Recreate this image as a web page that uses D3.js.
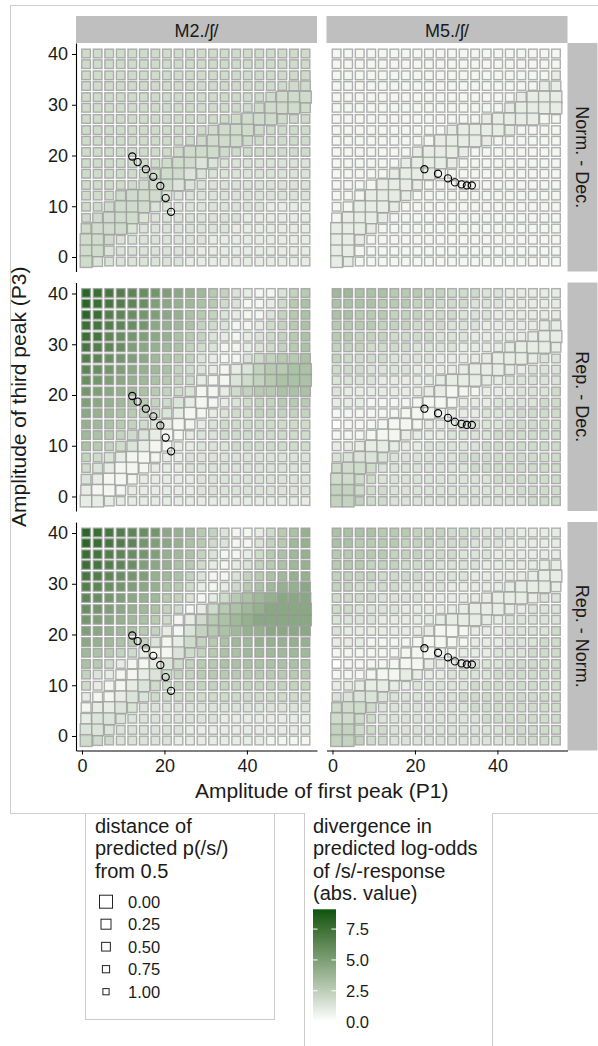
<!DOCTYPE html>
<html>
<head>
<meta charset="utf-8">
<script src="https://cdn.jsdelivr.net/npm/d3@7"></script>
<style>
  body { margin: 0; background: #fff; }
  svg { display: block; font-family: "Liberation Sans", Arial, sans-serif; }
</style>
</head>
<body>
<div id="chart"></div>
<script>
// facets
const colFacets = ["M2./ʃ/", "M5./ʃ/"];
const rowFacets = ["Norm. - Dec.", "Rep. - Dec.", "Rep. - Norm."];

// grid of stimuli: P1 (columns, left to right) and P3 (rows, top to bottom)
const p1Grid = [1.0, 3.8, 6.6, 9.4, 12.2, 15.0, 17.8, 20.6, 23.4, 26.2, 29.0, 31.8, 34.6, 37.4, 40.2, 43.0, 45.8, 48.6, 51.4, 54.2];
const p3Grid = [40.1, 38.0, 35.8, 33.7, 31.5, 29.4, 27.2, 25.0, 22.9, 20.7, 18.5, 16.4, 14.2, 12.1, 9.9, 7.7, 5.6, 3.4, 1.2, -0.9];

const xTicks = [0, 20, 40];
const yTicks = [0, 10, 20, 30, 40];
const sizeBreaks = [0, 0.25, 0.5, 0.75, 1];
const fillBreaks = [0, 2.5, 5, 7.5];
const fillMax = 9.1;

// experimental stimuli (open circles)
const stimP1M2 = [12.2, 13.5, 15.5, 17.3, 19.0, 20.3, 21.6];
const stimP3M2 = [19.8, 18.7, 17.3, 15.8, 14.0, 11.6, 8.9];
const stimP1M5 = [22.3, 25.6, 28.0, 29.7, 31.3, 32.6, 33.8];
const stimP3M5 = [17.3, 16.4, 15.5, 14.7, 14.3, 14.1, 14.1];

// divergence (abs log-odds), one char per cell, base36 / 2
const divM2NormDec = [
  "44444444444444444444","44444444444444444444","44444444444444444444","44444444444444444444",
  "44444444444444444444","44444444444444444444","44444444444444444444","44444444444444444444",
  "44444444444444444444","44444444444444444444","44444444443333333333","44444444433333333333",
  "44444444333333333333","44444443333333333333","44444433333333332222","44444333333333222222",
  "44443333333332222222","44433333333222222222","44333333332222222222","43333333322222222222"
];
const divM5NormDec = [
  "11111111111111111111","11111111111111111111","11111111111111111112","11111111111111111122",
  "11111111111111112222","11111111111111122222","11111111111112222211","11111111112222221111",
  "11111111122222111111","11111112222211111111","11111122222111111111","11111222211111111111",
  "11112222111111111111","11122221111111111111","11222211111111111111","12222111111111111111",
  "22221111111111111111","22211111111111111111","22111111111111111111","22111111111111111111"
];
const divM2RepDec = [
  "ihgfedcba98653211356","ihgfedba987643112467","ihfedcba976532113567","hgfedca9875431124567",
  "hgedcba9765321234567","gfedba98754311234567","fedcba87653211345667","edcba987543212356677",
  "dcba9876542113456777","cba98765431124566777","ba987654321123455666","a9876543211234455555",
  "98765432112344444444","87654321123344444444","76543211223334444444","54321112233333333333",
  "43211122233333333333","32111222223333333333","21112222223333333333","22222222222222222222"
];
const divM5RepDec = [
  "88777666554443322222","77776665544433322222","77666555444333222222","66665554443332222222",
  "66555444433322222222","55544443333222222222","54444333322222222233","44433332222222222333",
  "33332222222222233333","32222222221112223334","22211111111222333344","11111111112223334444",
  "01111111222333344444","11111122223333444444","22222222333334444444","33333333333444444444",
  "44443333333344444444","44443333333333444444","55444333333333334444","55544333333333333444"
];
const divM2RepNorm = [
  "ihgfedca986531124679","ihgfecba976431135689","hgfedcb9875311246789","hgfedba9764212356789",
  "gfedcb98753113567899","fedcba9764212467899a","edcba986531246789aaa","dcba987541246789aaaa",
  "cba987641246789aaaaa","ba98765213567899aaaa","a9876531245678899999","87654211345677888888",
  "76421123456677777777","53211234556666666666","42112344555555555555","21123344444444444444",
  "12233333333333333333","23333333333322222222","33333333322222222222","44433333222222221111"
];
const divM5RepNorm = [
  "77776665554443332222","77666655544433322222","66666555444333222222","66655544433332222222",
  "55554444333322222222","55444433332222222222","44443333222222222233","44333322222222222333",
  "33332222222222233333","32222222211122233334","22211111111122233344","11111111111222333444",
  "01111111222233344444","11111122223333444444","22222223333344444444","33333333333444444444",
  "44443333333344444444","44443333333334444444","55444333333333344444","55544333333333334444"
];

// distance of predicted p(/s/) from 0.5, one digit per cell (tenths)
const distM2NormDec = [
  "55555555555555555555","55555555555555555555","55555555555555555554","55555555555555555533",
  "55555555555555553111","55555555555555531113","55555555555553111355","55555555555311135555",
  "55555555553111355555","55555555311135555555","55555553111355555555","55555531113555555555",
  "55555311135555555555","55531113555555555555","55311135555555555555","53111355555555555555",
  "31113555555555555555","11355555555555555555","11355555555555555555","13555555555555555555"
];
const distM5NormDec = [
  "55555555555555555555","55555555555555555555","55555555555555555555","55555555555555555533",
  "55555555555555553111","55555555555555531111","55555555555553111135","55555555553111135555",
  "55555555311113555555","55555553111355555555","55555531113555555555","55555311135555555555",
  "55531113555555555555","55311135555555555555","53111355555555555555","31113555555555555555",
  "11135555555555555555","11355555555555555555","11355555555555555555","13555555555555555555"
];
const distM2RepDec = [
  "55555555555555555555","55555555555555555555","55555555555555555555","55555555555555555555",
  "55555555555555555555","55555555555555555555","55555555555555533333","55555555555532111111",
  "55555555553321111111","55555555532233333333","55555555221355555555","55555553213555555555",
  "55555532135555555555","55553211355555555555","55532113555555555555","55321135555555555555",
  "53211355555555555555","32113555555555555555","21135555555555555555","11355555555555555555"
];
const distM5RepDec = [
  "55555555555555555555","55555555555555555555","55555555555555555555","55555555555555555533",
  "55555555555555555311","55555555555555531113","55555555555553111355","55555555555311135555",
  "55555555531113555555","55555555311355555555","55555553113555555555","55555531135555555555",
  "55553113555555555555","55531135555555555555","55311355555555555555","53113555555555555555",
  "31135555555555555555","11355555555555555555","11355555555555555555","11555555555555555555"
];
const distM2RepNorm = [
  "55555555555555555555","55555555555555555555","55555555555555555555","55555555555555555555",
  "55555555555555555555","55555555555555555333","55555555555533222222","55555555553221111111",
  "55555555322211111111","55555553211223333333","55555532113555555555","55555321135555555555",
  "55553211355555555555","55532113555555555555","55321135555555555555","53211355555555555555",
  "32113555555555555555","21135555555555555555","11355555555555555555","13555555555555555555"
];
const distM5RepNorm = [
  "55555555555555555555","55555555555555555555","55555555555555555555","55555555555555555533",
  "55555555555555555311","55555555555555531113","55555555555553111355","55555555555311135555",
  "55555555531113555555","55555555311355555555","55555553113555555555","55555531135555555555",
  "55555311355555555555","55531113555555555555","55311355555555555555","53113555555555555555",
  "31135555555555555555","11355555555555555555","11355555555555555555","11555555555555555555"
];

// panel table built from the arrays above
const panels = [
  { row: 0, col: 0, div: divM2NormDec, dist: distM2NormDec },
  { row: 0, col: 1, div: divM5NormDec, dist: distM5NormDec },
  { row: 1, col: 0, div: divM2RepDec, dist: distM2RepDec },
  { row: 1, col: 1, div: divM5RepDec, dist: distM5RepDec },
  { row: 2, col: 0, div: divM2RepNorm, dist: distM2RepNorm },
  { row: 2, col: 1, div: divM5RepNorm, dist: distM5RepNorm }
];
const stimuli = [
  d3.zip(stimP1M2, stimP3M2),
  d3.zip(stimP1M5, stimP3M5)
];

function cellsOf(p) {
  const out = [];
  p3Grid.forEach((p3, r) => {
    p1Grid.forEach((p1, c) => {
      out.push({
        p1: p1, p3: p3,
        div: parseInt(p.div[r][c], 36) / 2,
        dist: +p.dist[r][c] / 10
      });
    });
  });
  return out;
}

const width = 598, height = 1046;
const panelW = 241, panelH = 228.5;
const panelX = [76, 326.5];
const panelY = [43, 282.5, 522];
const stripTop = 16, stripH = 27;
const textCol = "#1a1a1a";

const svg = d3.select("#chart").append("svg")
    .attr("width", width)
    .attr("height", height);

// outer frame of the plot and legend boxes
const frame = "#cccccc";
svg.append("rect")
    .attr("x", 10.5).attr("y", 5.5)
    .attr("width", 600).attr("height", 808)
    .attr("fill", "none").attr("stroke", frame);

const x = d3.scaleLinear().domain([-1.45, 57.0]).range([0, panelW]);
const y = d3.scaleLinear().domain([-2.86, 42.17]).range([panelH, 0]);
const size = d3.scaleLinear().domain(sizeBreaks).range([13, 10, 8.7, 7.2, 6.2]);
const fill = d3.scaleLinear().domain([0, fillMax])
    .range(["#ffffff", "#0e540c"])
    .interpolate(d3.interpolateLab);

// column strips
colFacets.forEach((name, i) => {
  const g = svg.append("g").attr("transform", `translate(${panelX[i]},${stripTop})`);
  g.append("rect").attr("width", panelW).attr("height", stripH).attr("fill", "#bfbfbf");
  g.append("text")
      .attr("x", panelW / 2).attr("y", stripH / 2 + 1)
      .attr("text-anchor", "middle").attr("dominant-baseline", "central")
      .attr("font-size", 18).attr("fill", textCol)
      .text(name);
});

// row strips
rowFacets.forEach((name, i) => {
  const g = svg.append("g").attr("transform", `translate(${panelX[1] + panelW},${panelY[i]})`);
  g.append("rect").attr("width", 30).attr("height", panelH).attr("fill", "#bfbfbf");
  g.append("text")
      .attr("transform", `translate(14,${panelH / 2}) rotate(90)`)
      .attr("text-anchor", "middle").attr("dominant-baseline", "central")
      .attr("font-size", 18).attr("fill", textCol)
      .text(name);
});

// panels
panels.forEach(p => {
  const g = svg.append("g")
      .attr("transform", `translate(${panelX[p.col]},${panelY[p.row]})`);

  g.selectAll("rect.cell")
      .data(cellsOf(p))
      .enter()
      .append("rect")
      .attr("class", "cell")
      .attr("x", d => x(d.p1) - size(d.dist) / 2)
      .attr("y", d => y(d.p3) - size(d.dist) / 2)
      .attr("width", d => size(d.dist))
      .attr("height", d => size(d.dist))
      .attr("fill", d => fill(d.div))
      .attr("fill-opacity", 0.9)
      .attr("stroke", "#9c9c9c")
      .attr("stroke-opacity", 0.8)
      .attr("stroke-width", 1.4);

  g.selectAll("circle")
      .data(stimuli[p.col])
      .enter()
      .append("circle")
      .attr("cx", d => x(d[0]))
      .attr("cy", d => y(d[1]))
      .attr("r", 3.6)
      .attr("fill", "none")
      .attr("stroke", "#000")
      .attr("stroke-width", 1.1);

  if (p.col === 0) {
    const ax = g.append("g")
        .call(d3.axisLeft(y).tickValues(yTicks).tickSize(4).tickSizeOuter(0).tickPadding(4));
    ax.selectAll("text").attr("font-size", 18).attr("fill", textCol).attr("font-family", null);
    ax.select(".domain").attr("stroke-width", 1.1);
  }
  if (p.row === 2) {
    const ax = g.append("g")
        .attr("transform", `translate(0,${panelH})`)
        .call(d3.axisBottom(x).tickValues(xTicks).tickSize(4).tickSizeOuter(0).tickPadding(5));
    ax.selectAll("text").attr("font-size", 18).attr("fill", textCol).attr("font-family", null);
    ax.select(".domain").attr("stroke-width", 1.1);
  }
});

// axis titles
svg.append("text")
    .attr("transform", `translate(26,${(panelY[0] + panelY[2] + panelH) / 2}) rotate(-90)`)
    .attr("text-anchor", "middle")
    .attr("font-size", 21).attr("fill", textCol)
    .text("Amplitude of third peak (P3)");

svg.append("text")
    .attr("x", (panelX[0] + panelX[1] + panelW) / 2)
    .attr("y", 798)
    .attr("text-anchor", "middle")
    .attr("font-size", 21).attr("fill", textCol)
    .text("Amplitude of first peak (P1)");

// size legend
const sl = svg.append("g");
sl.append("rect")
    .attr("x", 85.5).attr("y", 813.5).attr("width", 189).attr("height", 206)
    .attr("fill", "#fff").attr("stroke", frame);
["distance of", "predicted p(/s/)", "from 0.5"].forEach((t, i) => {
  sl.append("text").attr("x", 95).attr("y", 832.5 + i * 22.5)
      .attr("font-size", 20).attr("fill", textCol).text(t);
});
sizeBreaks.forEach((b, i) => {
  const cy = 901.7 + i * 22.5;
  sl.append("rect")
      .attr("x", 106 - size(b) / 2).attr("y", cy - size(b) / 2)
      .attr("width", size(b)).attr("height", size(b))
      .attr("fill", "none").attr("stroke", "#222").attr("stroke-width", 1);
  sl.append("text").attr("x", 128).attr("y", cy)
      .attr("dominant-baseline", "central")
      .attr("font-size", 16.5).attr("fill", textCol)
      .text(d3.format(".2f")(b));
});

// colour legend
const cl = svg.append("g");
cl.append("rect")
    .attr("x", 304.5).attr("y", 812).attr("width", 188).attr("height", 240)
    .attr("fill", "#fff");
cl.append("line").attr("x1", 304.5).attr("x2", 304.5).attr("y1", 813).attr("y2", 1046).attr("stroke", frame);
cl.append("line").attr("x1", 492.5).attr("x2", 492.5).attr("y1", 813).attr("y2", 1046).attr("stroke", frame);
["divergence in", "predicted log-odds", "of /s/-response", "(abs. value)"].forEach((t, i) => {
  cl.append("text").attr("x", 313).attr("y", 832.5 + i * 22.5)
      .attr("font-size", 20).attr("fill", textCol).text(t);
});
const barY = d3.scaleLinear().domain([0, fillMax]).range([1021.7, 909.3]);
const grad = svg.append("defs").append("linearGradient")
    .attr("id", "divgrad").attr("x1", 0).attr("y1", 1).attr("x2", 0).attr("y2", 0);
d3.range(0, 11).forEach(k => {
  grad.append("stop")
      .attr("offset", k / 10)
      .attr("stop-color", fill(fillMax * k / 10));
});
cl.append("rect")
    .attr("x", 313).attr("y", barY(fillMax))
    .attr("width", 23).attr("height", barY(0) - barY(fillMax))
    .attr("fill", "url(#divgrad)");
fillBreaks.forEach(b => {
  const yy = barY(b);
  cl.append("line").attr("x1", 313).attr("x2", 317.6).attr("y1", yy).attr("y2", yy)
      .attr("stroke", "#fff").attr("stroke-width", 1);
  cl.append("line").attr("x1", 331.4).attr("x2", 336).attr("y1", yy).attr("y2", yy)
      .attr("stroke", "#fff").attr("stroke-width", 1);
  cl.append("text").attr("x", 346).attr("y", yy)
      .attr("dominant-baseline", "central")
      .attr("font-size", 16.5).attr("fill", textCol)
      .text(d3.format(".1f")(b));
});
</script>
</body>
</html>
